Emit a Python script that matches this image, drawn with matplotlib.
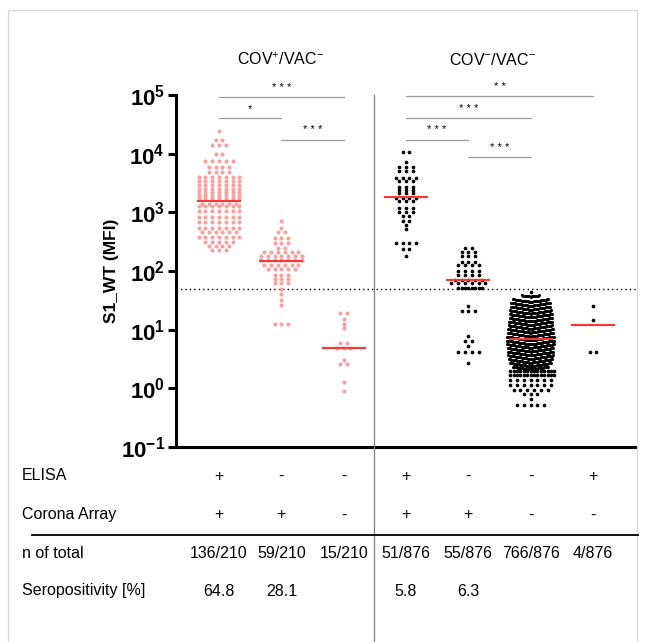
import numpy as np
import matplotlib
matplotlib.use('Agg')
import matplotlib.pyplot as plt
from matplotlib.lines import Line2D
from matplotlib.patches import Rectangle
from matplotlib.ticker import NullLocator
from matplotlib.transforms import blended_transform_factory

plt.rcParams['font.family'] = ['Liberation Sans', 'DejaVu Sans']
plt.rcParams['mathtext.fontset'] = 'custom'
plt.rcParams['mathtext.rm'] = 'Liberation Sans'
plt.rcParams['mathtext.bf'] = 'Liberation Sans:bold'
plt.rcParams['mathtext.it'] = 'Liberation Sans:italic'

# MFI levels (rows of the scatter) and number of samples per row
g1_mfi = [24000, 17400, 13800, 10000, 7600, 5900, 4800, 4000, 3400, 2900, 2500, 2240,
          1950, 1740, 1410, 1260, 1050, 830, 680, 550, 457, 380, 316, 263, 224]
g1_n = [1, 2, 3, 2, 5, 4, 4, 7, 7, 7, 7, 7, 7, 7, 6, 7, 7, 7, 7, 7, 6, 7, 5, 4, 3]
g2_mfi = [710, 550, 457, 363, 295, 251, 214, 182, 155, 129, 107, 87, 72, 62, 49, 40, 32, 26, 12.6]
g2_n = [1, 1, 2, 3, 3, 2, 6, 7, 7, 6, 5, 3, 3, 3, 1, 1, 1, 1, 3]
g3_mfi = [19.5, 15, 12.6, 10.5, 6.0, 4.8, 3.1, 2.6, 1.3, 0.9]
g3_n = [2, 1, 1, 1, 2, 3, 1, 2, 1, 1]
g4_mfi = [10500, 7100, 5900, 5100, 3900, 3400, 2750, 2450, 2100, 1780, 1550, 1200, 1000,
          850, 720, 600, 525, 300, 234, 178]
g4_n = [2, 1, 3, 3, 4, 3, 3, 3, 3, 4, 3, 3, 3, 2, 2, 1, 1, 4, 2, 1]
g5_mfi = [250, 209, 178, 145, 126, 100, 85, 69, 62, 52, 25, 21, 7.8, 6.3, 5.2, 4.1, 2.75]
g5_n = [2, 3, 3, 3, 4, 4, 4, 5, 6, 8, 1, 3, 1, 2, 1, 4, 1]
# group 6 is very dense: bands of many samples plus the sparse tails
g6_band_mfi = [38.5, 33.1, 28.6, 24.7, 21.3, 18.4, 15.8, 13.7, 11.8, 10.2, 8.8, 7.6,
               6.5, 5.65, 4.87, 4.2, 3.63, 3.13, 2.7, 2.33]
g6_band_n = [15, 30, 33, 34, 35, 36, 36, 37, 37, 38, 39, 40, 40, 40, 39, 39, 38, 37, 35, 30]
g6_tail_mfi = [44.7, 1.95, 1.66, 1.38, 1.15, 0.95, 0.79, 0.65, 0.51]
g6_tail_n = [1, 14, 14, 7, 7, 6, 3, 1, 5]
g7_mfi = [25, 14.4, 4.1]
g7_n = [1, 1, 2]

center_lines = [1550, 150, 4.8, 1800, 70, 6.8, 11.8]
cutoff = 50

# significance brackets: (group a, group b, height, stars)
brackets = [(0, 2, 93000, '* * *'), (0, 1, 40000, '*'), (1, 2, 17400, '* * *'),
            (3, 6, 97000, '* *'), (3, 5, 40000, '* * *'), (3, 4, 17400, '* * *'),
            (4, 5, 8700, '* * *')]

elisa = ['+', '-', '-', '+', '-', '-', '+']
array = ['+', '+', '-', '+', '+', '-', '-']
n_total = ['136/210', '59/210', '15/210', '51/876', '55/876', '766/876', '4/876']
seropos = ['64.8', '28.1', '', '5.8', '6.3', '', '']

pink = '#f4a3a3'
red = '#ef3b3b'

W, H = 646, 642
fig = plt.figure(figsize=(W / 100, H / 100), dpi=100)
ax = fig.add_axes([176 / W, 1 - 447 / H, (636 - 176) / W, (447 - 95) / H])
ax.set_yscale('log')
ax.set_ylim(0.1, 1e5)
ax.set_xlim(-0.69, 6.69)

px_x = (636 - 176) / (6.69 + 0.69)   # pixels per group
px_dec = (447 - 95) / 6.0            # pixels per decade


def rows(pos, mfi, counts, per_row=7, dx=6.8, dy=0.0, chevron=0.0):
    # lay samples of each level out in horizontal rows, like Prism's scatter
    xs, ys = [], []
    for v, n in zip(mfi, counts):
        nrows = int(np.ceil(n / per_row))
        per = int(np.ceil(n / nrows))
        done = 0
        for r in range(nrows):
            k = min(per, n - done)
            done += k
            off = (np.arange(k) - (k - 1) / 2) * dx
            if r % 2:
                off = off + dx / 2
            half = (per - 1) / 2 * dx
            yoff = -r * dy - chevron * (half - np.abs(off))
            xs.extend(pos + off / px_x)
            ys.extend(10 ** (np.log10(v) + yoff / px_dec))
    return np.array(xs), np.array(ys)


groups = [(0, g1_mfi, g1_n, pink), (1, g2_mfi, g2_n, pink), (2, g3_mfi, g3_n, pink),
          (3, g4_mfi, g4_n, 'black'), (4, g5_mfi, g5_n, 'black'), (5, g6_tail_mfi, g6_tail_n, 'black'),
          (6, g7_mfi, g7_n, 'black')]
for pos, mfi, n, col in groups:
    x, y = rows(pos, mfi, n)
    ax.scatter(x, y, s=9 if col == pink else 7, color=col, linewidths=0, zorder=3)

x, y = rows(5, g6_band_mfi, g6_band_n, per_row=40, dx=1.2, chevron=0.16)
ax.scatter(x, y, s=5, color='black', linewidths=0, zorder=3)

for i, m in enumerate(center_lines):
    ax.plot([i - 0.335, i + 0.335], [m, m], color=red, lw=1.6, zorder=4)

ax.axhline(cutoff, color='black', ls=(0, (1, 2.2)), lw=1, zorder=2)

for a, b, h, stars in brackets:
    ax.plot([a, b], [h, h], color='#9a9a9a', lw=0.9, clip_on=False)
    ax.annotate(stars, xy=((a + b) / 2, h), xytext=(0, 3), textcoords='offset points',
                ha='center', va='bottom', fontsize=8, annotation_clip=False)

for s in ['top', 'right']:
    ax.spines[s].set_visible(False)
ax.spines['left'].set_linewidth(2.2)
ax.spines['bottom'].set_linewidth(2.2)
ax.set_xticks([])
ax.yaxis.set_minor_locator(NullLocator())
ax.set_yticks([10.0 ** e for e in range(-1, 6)])
ax.set_yticklabels([r'$\mathbf{10^{%d}}$' % e for e in range(-1, 6)])
ax.tick_params(axis='y', length=6, width=2.2, labelsize=16, pad=2)
ax.set_ylabel('S1_WT (MFI)', fontsize=12.5, fontweight='bold', labelpad=1)

# group titles and separator
fig.text(281 / W, 1 - 60 / H, 'COV$^{+}$/VAC$^{-}$', ha='center', va='center', fontsize=11.5)
fig.text(493 / W, 1 - 60 / H, 'COV$^{-}$/VAC$^{-}$', ha='center', va='center', fontsize=11.5)
fig.add_artist(Line2D([374 / W] * 2, [1 - 95 / H, 0], color='#808080', lw=0.9))

# table below the plot
tr = blended_transform_factory(ax.transData, fig.transFigure)
table = [('ELISA', elisa, 476), ('Corona Array', array, 515),
         ('n of total', n_total, 553), ('Seropositivity [%]', seropos, 591)]
for label, cells, ypx in table:
    fig.text(22 / W, 1 - ypx / H, label, ha='left', va='center', fontsize=11.5)
    for i, c in enumerate(cells):
        ax.text(i, 1 - ypx / H, c, transform=tr, ha='center', va='center', fontsize=11.5)
fig.add_artist(Line2D([32 / W, 638 / W], [1 - 535 / H] * 2, color='black', lw=1.3))

# light frame around the panel
fig.add_artist(Rectangle((8 / W, -0.01), 629 / W, 1 - 10 / H + 0.01, transform=fig.transFigure,
                         fill=False, edgecolor='#d6d6d6', lw=0.9))

fig.savefig('out.png', dpi=100)
